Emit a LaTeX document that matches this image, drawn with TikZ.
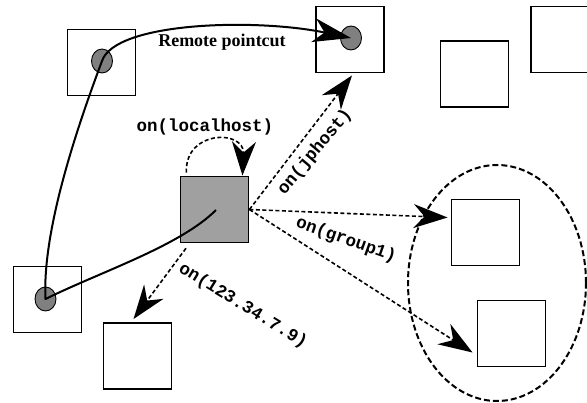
\documentclass[tikz,border=0pt]{standalone}
\usepackage{fontspec}
\setmainfont{Liberation Serif}
\setmonofont{Liberation Mono}
\usepackage{tikz}
\usetikzlibrary{shapes.geometric, arrows.meta, positioning}
\definecolor{hostgray}{RGB}{160,160,160}
\definecolor{jpgray}{RGB}{128,128,128}
\tikzstyle{host} = [rectangle, draw, line width=1.9pt, minimum width=68pt, minimum height=66pt, inner sep=0pt]
\tikzstyle{lhost} = [host, fill=hostgray]
\tikzstyle{jpoint} = [ellipse, draw, fill=jpgray, line width=0.9pt, minimum width=21pt, minimum height=24pt, inner sep=0pt]
\tikzstyle{group} = [ellipse, draw, line width=2pt, dash pattern=on 6pt off 3pt, minimum width=178pt, minimum height=236pt, inner sep=0pt]
\tikzstyle{line} = [draw, line width=2pt, line join=round, -{Stealth[length=38pt, width=24pt, inset=11pt]}]
\tikzstyle{call} = [draw, line width=1.6pt, dash pattern=on 4pt off 2.5pt, -{Stealth[length=34pt, width=24pt, inset=11pt]}]
\tikzstyle{tlabel} = [font=\fontsize{17.5}{20}\selectfont\ttfamily\bfseries, inner sep=0pt]
\tikzstyle{rlabel} = [font=\fontsize{18}{20}\selectfont\bfseries, inner sep=0pt]

\begin{document}
\begin{tikzpicture}[x=1pt, y=-1pt]
	\useasboundingbox (0,0) rectangle (587,403);
	
	\node [group] (grp) at (497,283) {};
	
	\node [host] (A) at (101.5,62.5) {};
	\node [host] (B) at (350,39.5) {};
	\node [host] (C) at (474.5,74) {};
	\node [host] (D) at (565,39.5) {};
	\node [lhost] (M) at (214.5,209.5) {};
	\node [host] (E) at (47.5,299.5) {};
	\node [host] (F) at (137.5,356) {};
	\node [host] (G) at (485.5,232.5) {};
	\node [host] (H) at (511.5,333.5) {};
	
	\node [jpoint] (pa) at (102,61) {};
	\node [jpoint] (pb) at (351,38) {};
	\node [jpoint] (pe) at (45.5,299) {};
	
	% remote pointcut
	\coordinate (ms) at (216,210);
	\path [line] (ms) .. controls (180,246) and (100,272) .. (pe.center)
		.. controls (42,230) and (78,125) .. (pa.center)
		.. controls (115,22) and (255,18) .. (pb.center);
	\node [rlabel] (rp) at (222,42) {Remote pointcut};
	
	% calls
	\path [call, shorten <=3pt] ([xshift=7pt]M.north west) .. controls +(-2,-46) and +(2,-46) .. ([xshift=-7pt]M.north east);
	\path [call] (M.east) -- ([xshift=2pt,yshift=-2pt]B.south);
	\path [call] (M.east) -- ([yshift=15pt,xshift=-3pt]G.west);
	\path [call] (M.east) -- ([yshift=-19pt,xshift=-4pt]H.west);
	\path [call, shorten <=6pt] ([xshift=10pt]M.south west) -- ([xshift=-4pt,yshift=3pt]F.north);
	
	\node [tlabel] (l1) at (205,127) {on(localhost)};
	\node [tlabel, rotate=50] (l2) at (315,152) {on(jphost)};
	\node [tlabel, rotate=-19.5] (l3) at (346,240) {on(group1)};
	\node [tlabel, rotate=-31.5] (l4) at (243,306) {on(123.34.7.9)};
\end{tikzpicture}
\end{document}
